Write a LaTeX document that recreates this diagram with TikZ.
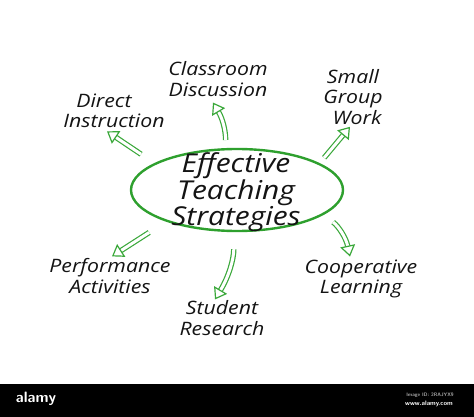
\documentclass[tikz,border=0pt]{standalone}
\usepackage{fontspec}
\usepackage{tikz}
\usetikzlibrary{shapes.geometric, arrows.meta, positioning, calc}
\newfontfamily\handfont{Open Sans}[FakeStretch=1.15]
\definecolor{ringgreen}{RGB}{46, 160, 46}
\definecolor{arrowgreen}{RGB}{58, 168, 58}
\definecolor{inkblack}{RGB}{20, 20, 20}

\begin{document}
\begin{tikzpicture}[
    x=1pt, y=-1pt,
    topic/.style={align=center, inner sep=0pt, text=inkblack, font=\handfont\itshape\fontsize{18.5}{20.5}\selectfont},
    core/.style={align=center, inner sep=0pt, text=inkblack, font=\handfont\itshape\fontsize{26}{20.5}\selectfont},
    hubring/.style={ellipse, draw=ringgreen, line width=2.4pt, minimum width=212pt, minimum height=82pt, inner sep=0pt},
    flow/.style={draw=arrowgreen, line width=1.2pt, double=white, double distance=3pt, -{Triangle[open, length=11pt, width=15pt]}},
    footer/.style={font=\sffamily\bfseries\fontsize{#1}{#1}\selectfont}
]
    \fill[white] (0, 0) rectangle (474, 417);
    \useasboundingbox (0, 0) rectangle (474, 417);

    % Centre
    \node[hubring] (oval) at (237, 190) {};
    \node[core] (strategies) at (236, 192) {Effective\\Teaching\\Strategies};

    % Topics round it
    \node[topic] (direct) at (114, 111) {Direct\hspace*{20pt}\\Instruction};
    \node[topic] (classroom) at (218, 79) {Classroom\\Discussion};
    \node[topic] (smallgroup) at (353, 97) {Small\\Group\\\hspace*{8pt}Work};
    \node[topic] (performance) at (110, 276) {Performance\\Activities};
    \node[topic] (student) at (222, 318) {Student\\Research};
    \node[topic] (cooperative) at (361, 279) {Cooperative\\Learning};

    % Arrows
    \draw[flow, shorten <=16pt] (oval.162) -- ([xshift=-7pt, yshift=-3pt]direct.south);
    \draw[flow, shorten <=8pt] (oval.105) to[bend right=15] ([xshift=-5pt, yshift=-6pt]classroom.south);
    \draw[flow, shorten <=7pt] (oval.18) -- ([xshift=-3pt, yshift=-2pt]smallgroup.south);
    \draw[flow, shorten <=20pt] (oval.204) -- ([xshift=2pt, yshift=2pt]performance.north);
    \draw[flow, shorten <=17pt] (oval.266) to[bend left=15] ([xshift=-7pt, yshift=1pt]student.north);
    \draw[flow, shorten <=12pt] (oval.-16) to[bend left=20] ([xshift=-11pt, yshift=3pt]cooperative.north);

    % Footer
    \fill[black] (0, 384) rectangle (474, 417);
    \node[footer=15, text=white] (brand) at (36, 399) {alamy};
    \node[footer=5, text=gray!70] (imageid) at (430, 395) {Image ID: 2RAJYX9};
    \node[footer=6.5, text=white] (site) at (429, 404) {www.alamy.com};
\end{tikzpicture}
\end{document}
